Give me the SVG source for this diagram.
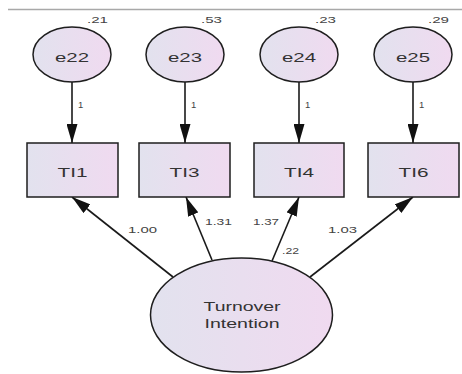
<svg xmlns="http://www.w3.org/2000/svg" width="462" height="374" viewBox="0 0 462 374">
<style>
.shape{fill:url(#fillg);stroke:#1e1e1e;stroke-width:1.5}
.conn{stroke:#1a1a1a;stroke-width:1.6;fill:none;marker-end:url(#arr)}
.nt{font-family:"Liberation Sans",Arial,sans-serif;font-size:13px;fill:#333;text-anchor:middle}
.lbl{font-family:"Liberation Sans",Arial,sans-serif;font-size:9.5px;fill:#444}
</style>
<defs>
<linearGradient id="fillg" x1="0" y1="0" x2="1" y2="0">
<stop offset="0" stop-color="#e2e2ee"/>
<stop offset="1" stop-color="#f0daf0"/>
</linearGradient>
<marker id="arr" markerUnits="userSpaceOnUse" markerWidth="20" markerHeight="11" refX="19" refY="5.5" orient="auto">
<path d="M0,0 L19,5.5 L0,11 z" fill="#111"/>
</marker>
</defs>
<rect width="462" height="374" fill="#ffffff"/>
<line x1="8" y1="9.5" x2="462" y2="9.5" stroke="#a8a8a8" stroke-width="1.5"/>

<g id="connectors">
<line class="conn" x1="72" y1="82" x2="72" y2="143"/>
<line class="conn" x1="185" y1="82" x2="185" y2="143"/>
<line class="conn" x1="299" y1="82" x2="299" y2="143"/>
<line class="conn" x1="413" y1="82" x2="413" y2="143"/>
<line class="conn" x1="173" y1="277" x2="72" y2="197"/>
<line class="conn" x1="212" y1="260" x2="186" y2="197"/>
<line class="conn" x1="272" y1="261" x2="299" y2="197"/>
<line class="conn" x1="310" y1="277" x2="413" y2="197"/>
<text class="lbl" x="78" y="108">1</text>
<text class="lbl" x="191" y="108">1</text>
<text class="lbl" x="305" y="108">1</text>
<text class="lbl" x="419" y="108">1</text>
<text class="lbl" x="128" y="233" textLength="29" lengthAdjust="spacingAndGlyphs">1.00</text>
<text class="lbl" x="205" y="225" textLength="27" lengthAdjust="spacingAndGlyphs">1.31</text>
<text class="lbl" x="253" y="225" textLength="26" lengthAdjust="spacingAndGlyphs">1.37</text>
<text class="lbl" x="328" y="233" textLength="29" lengthAdjust="spacingAndGlyphs">1.03</text>
</g>

<g id="e22">
<ellipse class="shape" cx="72" cy="54.5" rx="39" ry="27.5"/>
<text class="nt" x="72" y="62" textLength="34" lengthAdjust="spacingAndGlyphs">e22</text>
<text class="lbl" x="108" y="23" text-anchor="end" textLength="21" lengthAdjust="spacingAndGlyphs">.21</text>
</g>
<g id="e23">
<ellipse class="shape" cx="185" cy="54.5" rx="39" ry="27.5"/>
<text class="nt" x="185" y="62" textLength="34" lengthAdjust="spacingAndGlyphs">e23</text>
<text class="lbl" x="222" y="23" text-anchor="end" textLength="21" lengthAdjust="spacingAndGlyphs">.53</text>
</g>
<g id="e24">
<ellipse class="shape" cx="299" cy="54.5" rx="39" ry="27.5"/>
<text class="nt" x="299" y="62" textLength="34" lengthAdjust="spacingAndGlyphs">e24</text>
<text class="lbl" x="336" y="23" text-anchor="end" textLength="21" lengthAdjust="spacingAndGlyphs">.23</text>
</g>
<g id="e25">
<ellipse class="shape" cx="413" cy="54.5" rx="39" ry="27.5"/>
<text class="nt" x="413" y="62" textLength="34" lengthAdjust="spacingAndGlyphs">e25</text>
<text class="lbl" x="449" y="23" text-anchor="end" textLength="21" lengthAdjust="spacingAndGlyphs">.29</text>
</g>

<g id="TI1">
<rect class="shape" x="27" y="143" width="91" height="54"/>
<text class="nt" x="72.5" y="177" textLength="30" lengthAdjust="spacingAndGlyphs">TI1</text>
</g>
<g id="TI3">
<rect class="shape" x="139" y="143" width="91" height="54"/>
<text class="nt" x="184.5" y="177" textLength="30" lengthAdjust="spacingAndGlyphs">TI3</text>
</g>
<g id="TI4">
<rect class="shape" x="254" y="143" width="90" height="54"/>
<text class="nt" x="299" y="177" textLength="30" lengthAdjust="spacingAndGlyphs">TI4</text>
</g>
<g id="TI6">
<rect class="shape" x="368" y="143" width="91" height="54"/>
<text class="nt" x="413.5" y="177" textLength="30" lengthAdjust="spacingAndGlyphs">TI6</text>
</g>

<g id="TurnoverIntention">
<ellipse class="shape" cx="241.5" cy="315" rx="91" ry="57"/>
<text class="nt" x="242" y="311" font-size="14" textLength="77" lengthAdjust="spacingAndGlyphs">Turnover</text>
<text class="nt" x="242" y="328" font-size="14" textLength="75" lengthAdjust="spacingAndGlyphs">Intention</text>
<text class="lbl" x="282" y="254" textLength="17" lengthAdjust="spacingAndGlyphs">.22</text>
</g>
</svg>
